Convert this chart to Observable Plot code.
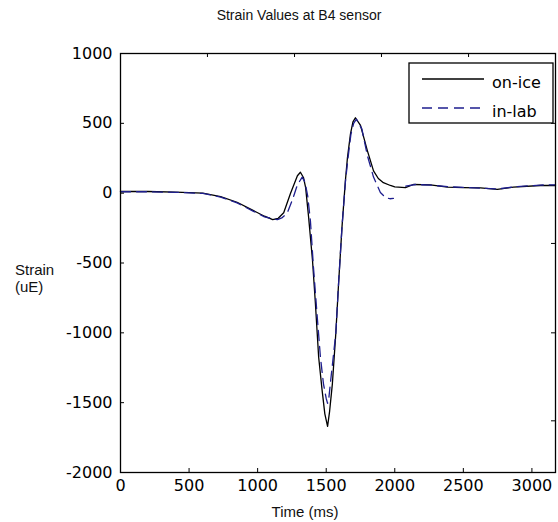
<!DOCTYPE html>
<html>
<head>
<meta charset="utf-8">
<script src="https://cdn.jsdelivr.net/npm/d3@7"></script>
<script src="https://cdn.jsdelivr.net/npm/@observablehq/plot@0.6"></script>
<style>
  html, body { margin: 0; padding: 0; background: white; }
  #chart svg { display: block; }
</style>
</head>
<body>
<div id="chart"></div>
<script>
// ---- data ----
const onIceTime   = [0, 200, 400, 600, 730, 850, 970, 1050, 1110, 1150, 1190, 1240, 1290, 1312, 1335, 1350, 1372, 1400, 1420, 1445, 1470, 1490, 1510, 1525, 1545, 1570, 1590, 1615, 1640, 1655, 1677, 1695, 1713, 1750, 1800, 1845, 1880, 1917, 1968, 2000, 2078, 2136, 2260, 2384, 2500, 2625, 2748, 2865, 3062, 3172];
const onIceStrain = [12, 12, 8, 0, -25, -65, -125, -165, -190, -180, -140, 0, 125, 150, 110, 40, -175, -480, -770, -1175, -1410, -1580, -1670, -1560, -1365, -1005, -650, -245, 90, 255, 425, 510, 540, 485, 305, 160, 105, 75, 55, 45, 40, 62, 60, 43, 40, 38, 27, 43, 55, 55];

const inLabTime   = [0, 200, 400, 600, 730, 850, 970, 1050, 1145, 1180, 1215, 1260, 1290, 1325, 1345, 1365, 1385, 1407, 1435, 1458, 1480, 1500, 1510, 1520, 1530, 1570, 1590, 1615, 1640, 1660, 1680, 1700, 1720, 1760, 1800, 1845, 1895, 1932, 1965, 1990, 2035, 2080, 2150, 2260, 2400, 2500, 2650, 2750, 2870, 3060, 3172];
const inLabStrain = [10, 10, 6, -2, -28, -70, -130, -170, -190, -175, -145, -30, 60, 115, 80, -20, -200, -530, -890, -1175, -1365, -1470, -1505, -1460, -1365, -1005, -650, -245, 80, 260, 420, 500, 530, 460, 270, 115, 5, -30, -40, -38, null, 50, 62, 58, 45, 42, 35, 30, 45, 58, 60];

const xTickValues = [0, 500, 1000, 1500, 2000, 2500, 3000];
const yTickValues = [-2000, -1500, -1000, -500, 0, 500, 1000];
const topTickValues = [634, 1269, 1903, 2538];
const rightTickValues = [500, -360, -1000, -1630];

const seriesNames = ["on-ice", "in-lab"];
const titleText = "Strain Values at B4 sensor";
const xLabelText = "Time (ms)";
const yLabelLines = ["Strain", "(uE)"];

const onIce = onIceTime.map((t, i) => ({t, v: onIceStrain[i]}));
const inLab = inLabTime.map((t, i) => ({t, v: inLabStrain[i]}));

const W = 558, H = 522;
const mL = 120, mR = 3, mT = 53, mB = 50;
const innerW = W - mL - mR, innerH = H - mT - mB;
const tickLen = 4;
const blue = "#1e1e8e";
const dash = "10,6";
const fmt = d => String(d);

const plot = Plot.plot({
  width: W,
  height: H,
  marginLeft: mL,
  marginRight: mR,
  marginTop: mT,
  marginBottom: mB,
  style: {fontFamily: "DejaVu Sans, sans-serif", fontSize: "16px", background: "white", color: "black"},
  x: {domain: [0, 3172]},
  y: {domain: [-2000, 1000]},
  marks: [
    Plot.line(onIce, {x: "t", y: "v", stroke: "black", strokeWidth: 1.3}),
    Plot.line(inLab, {x: "t", y: "v", stroke: blue, strokeWidth: 1.3, strokeDasharray: dash}),
    Plot.frame({stroke: "black", strokeWidth: 1.3}),
    Plot.tickX(xTickValues, {x: d => d, insetTop: innerH - tickLen, stroke: "black"}),
    Plot.tickX(topTickValues, {x: d => d, insetBottom: innerH - tickLen, stroke: "black"}),
    Plot.tickY(yTickValues, {y: d => d, insetRight: innerW - tickLen, stroke: "black"}),
    Plot.tickY(rightTickValues, {y: d => d, insetLeft: innerW - tickLen, stroke: "black"}),
    Plot.axisX(xTickValues, {anchor: "bottom", tickSize: 0, tickPadding: 7, label: null, fontSize: 16, fill: "black", tickFormat: fmt}),
    Plot.axisY(yTickValues, {anchor: "left", tickSize: 0, tickPadding: 8, label: null, fontSize: 16, fill: "black", tickFormat: fmt})
  ]
});

document.getElementById("chart").appendChild(plot);

const svg = d3.select(plot);

// title
svg.append("text")
  .attr("x", 299).attr("y", 20)
  .attr("text-anchor", "middle")
  .attr("font-family", "Liberation Sans, Arial, sans-serif")
  .attr("font-size", 14)
  .attr("fill", "#111")
  .text(titleText);

// x label
svg.append("text")
  .attr("x", 305).attr("y", 517)
  .attr("text-anchor", "middle")
  .attr("font-family", "Liberation Sans, Arial, sans-serif")
  .attr("font-size", 15)
  .attr("fill", "#111")
  .text(xLabelText);

// y label (horizontal, two lines)
yLabelLines.forEach((s, i) => {
  svg.append("text")
    .attr("x", 15).attr("y", 275 + i * 17)
    .attr("text-anchor", "start")
    .attr("font-family", "Liberation Sans, Arial, sans-serif")
    .attr("font-size", 15)
    .attr("fill", "#111")
    .text(s);
});

// legend
const lg = svg.append("g");
lg.append("rect")
  .attr("x", 409).attr("y", 63).attr("width", 144).attr("height", 60)
  .attr("fill", "white").attr("stroke", "black").attr("stroke-width", 1.3);
const legendRows = [
  {name: seriesNames[0], stroke: "black", dash: null, y: 79},
  {name: seriesNames[1], stroke: blue, dash: dash, y: 108}
];
legendRows.forEach(r => {
  lg.append("line")
    .attr("x1", 422).attr("x2", 484)
    .attr("y1", r.y).attr("y2", r.y)
    .attr("stroke", r.stroke).attr("stroke-width", 1.3)
    .attr("stroke-dasharray", r.dash);
  lg.append("text")
    .attr("x", 492).attr("y", r.y + 4)
    .attr("text-anchor", "start")
    .attr("dominant-baseline", "middle")
    .attr("font-family", "DejaVu Sans, sans-serif")
    .attr("font-size", 16)
    .attr("fill", "black")
    .text(r.name);
});
</script>
</body>
</html>
